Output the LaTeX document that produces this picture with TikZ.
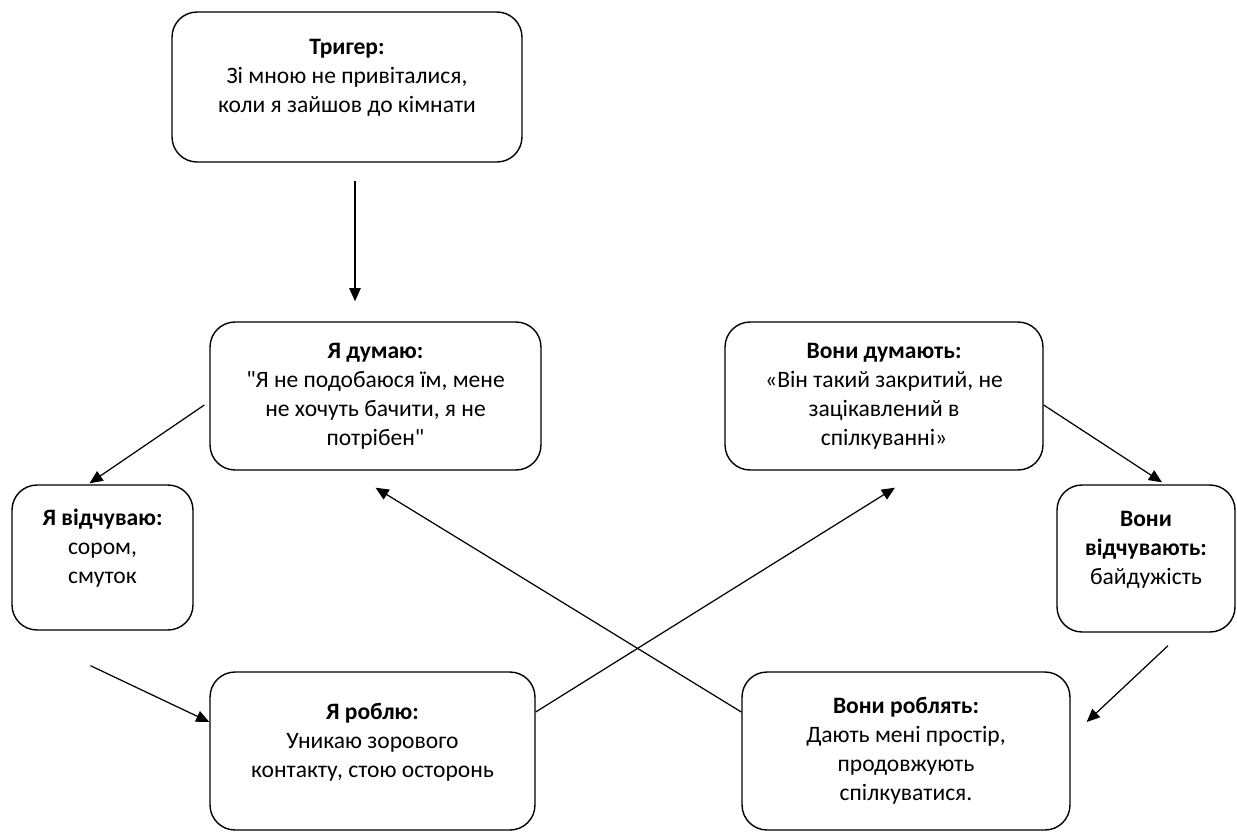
\documentclass[tikz,border=0pt]{standalone}
\usepackage{fontspec}
\setmainfont{Carlito}[Ligatures=TeXOff]
\usepackage{tikz}
\usetikzlibrary{positioning, calc, arrows.meta}

\tikzset{
	box/.style={draw, line width=0.8pt, rounded corners=0.5cm, align=center, inner sep=2pt, font=\fontsize{13.4}{16.5}\selectfont},
	flow/.style={-{Triangle[length=7.5pt,width=6.5pt]}, line width=0.7pt}
}

\begin{document}
\begin{tikzpicture}[x=0.02cm, y=-0.02cm]
	\useasboundingbox (0,0) rectangle (1237,832);
	
	\node [box, minimum width=7cm, minimum height=3cm] (trig) at (347,87) {\textbf{Тригер:}\\Зі мною не привіталися,\\коли я зайшов до кімнати\\[-4pt]\mbox{}};
	\node [box, minimum width=6.62cm, minimum height=2.96cm] (think) at (375.5,396) {\textbf{Я думаю:}\\"Я не подобаюся їм, мене\\не хочуть бачити, я не\\потрібен"};
	\node [box, minimum width=6.36cm, minimum height=2.96cm] (theythink) at (884,396) {\textbf{Вони думають:}\\«Він такий закритий, не\\зацікавлений в\\спілкуванні»};
	\node [box, minimum width=3.62cm, minimum height=2.9cm] (feel) at (102.5,557.5) {\textbf{Я відчуваю:}\\сором,\\смуток\\[-4pt]\mbox{}};
	\node [box, minimum width=3.56cm, minimum height=2.94cm] (theyfeel) at (1146,558.5) {\textbf{Вони}\\\textbf{відчувають:}\\байдужість\\[-4pt]\mbox{}};
	\node [box, minimum width=6.5cm, minimum height=3.16cm] (do) at (372.5,751) {\textbf{Я роблю:}\\Уникаю зорового\\контакту, стою осторонь\\[-4pt]\mbox{}};
	\node [box, minimum width=6.56cm, minimum height=3.16cm] (theydo) at (906,751) {\textbf{Вони роблять:}\\Дають мені простір,\\продовжують\\спілкуватися.};
	
	% cycle
	\draw [flow] ($(trig.south)+(8,18)$) -- ($(think.north)+(-20.5,-20)$);
	\draw [flow] ($(think.west)+(-5,9)$) -- ($(feel.north)+(-13,-1)$);
	\draw [flow] ($(feel.south)+(-12,35)$) -- ($(do.west)+(0,-29)$);
	\draw [flow] ($(do.east)+(0,-39)$) -- ($(theythink.south)+(11,17)$);
	\draw [flow] ($(theythink.east)+(0,9)$) -- ($(theyfeel.north)+(16,-2)$);
	\draw [flow] ($(theyfeel.south)+(22,13)$) -- ($(theydo.east)+(16,-29)$);
	\draw [flow] ($(theydo.west)+(0,-39)$) -- ($(think.south)+(0,17)$);
\end{tikzpicture}
\end{document}
